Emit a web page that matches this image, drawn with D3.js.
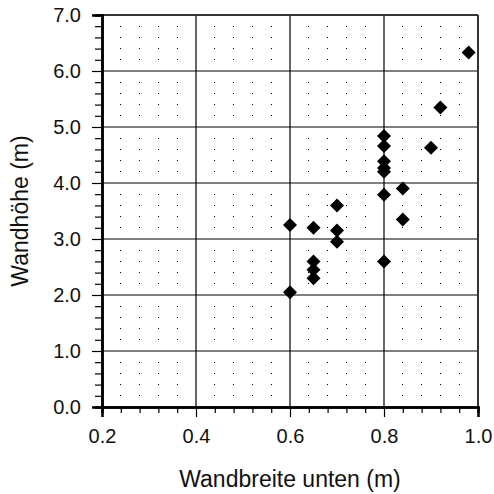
<!DOCTYPE html>
<html><head><meta charset="utf-8">
<script src="https://cdn.jsdelivr.net/npm/d3@7"></script>
<style>html,body{margin:0;padding:0;background:#fff;}svg{display:block;}</style>
</head><body>
<script>
const wandbreite = [0.6,0.6,0.65,0.65,0.65,0.65,0.7,0.7,0.7,0.8,0.8,0.8,0.8,0.8,0.8,0.8,0.84,0.84,0.9,0.92,0.98];
const wandhoehe  = [3.25,2.05,3.2,2.6,2.45,2.3,3.6,3.15,2.95,4.84,4.66,4.39,4.27,4.2,3.79,2.6,3.9,3.35,4.63,5.35,6.33];
const xTicks = [0.2,0.4,0.6,0.8,1.0];
const yTicks = [0,1,2,3,4,5,6,7];
const xLabel = "Wandbreite unten (m)";
const yLabel = "Wandhöhe (m)";

const W = 494, H = 494;
const m = {left:102, right:16, top:15, bottom:87};
const svg = d3.select("body").append("svg").attr("width",W).attr("height",H);
const x = d3.scaleLinear().domain([0.2,1.0]).range([m.left, W-m.right]);
const y = d3.scaleLinear().domain([0,7]).range([H-m.bottom, m.top]);
const font = "'Liberation Sans', Arial, sans-serif";

const xMinor = d3.range(0,21).map(i => 0.2 + i*0.04).filter((v,i)=> i%5!==0);
const yMinor = d3.range(0,36).map(i => i*0.2).filter((v,i)=> i%5!==0);

// dot grid
const dots = svg.append("g");
xMinor.forEach(xv => yMinor.forEach(yv => {
  dots.append("rect").attr("x", Math.floor(x(xv))).attr("y", Math.floor(y(yv)))
    .attr("width",1).attr("height",1).attr("fill","#000");
}));

// major grid lines
const grid = svg.append("g").attr("stroke","#000").attr("stroke-width",1.2);
xTicks.slice(1,-1).forEach(v => grid.append("line").attr("x1",x(v)).attr("x2",x(v)).attr("y1",y(0)).attr("y2",y(7)));
yTicks.slice(1,-1).forEach(v => grid.append("line").attr("x1",x(0.2)).attr("x2",x(1.0)).attr("y1",y(v)).attr("y2",y(v)));

// frame top/right
svg.append("line").attr("x1",x(0.2)).attr("x2",x(1.0)).attr("y1",y(7)).attr("y2",y(7)).attr("stroke","#333").attr("stroke-width",2);
svg.append("line").attr("x1",x(1.0)).attr("x2",x(1.0)).attr("y1",y(7)).attr("y2",y(0)).attr("stroke","#333").attr("stroke-width",2);

// axes
const xAxisMinor = d3.axisBottom(x).tickValues(xMinor).tickSize(6).tickFormat("");
const xAxis = d3.axisBottom(x).tickValues(xTicks).tickSize(10).tickPadding(12).tickFormat(d3.format(".1f"));
const yAxisMinor = d3.axisLeft(y).tickValues(yMinor).tickSize(7).tickFormat("");
const yAxis = d3.axisLeft(y).tickValues(yTicks).tickSize(10).tickPadding(11).tickFormat(d3.format(".1f"));

function style(g){
  g.select(".domain").attr("stroke","#000").attr("stroke-width",2.5);
  g.selectAll(".tick line").attr("stroke","#000").attr("stroke-width",1.2);
  g.selectAll("text").attr("font-family",font).attr("font-size",20).attr("fill","#111");
}
svg.append("g").attr("transform",`translate(0,${y(0)})`).call(xAxisMinor).call(style);
svg.append("g").attr("transform",`translate(0,${y(0)})`).call(xAxis).call(style);
svg.append("g").attr("transform",`translate(${x(0.2)},0)`).call(yAxisMinor).call(style);
svg.append("g").attr("transform",`translate(${x(0.2)},0)`).call(yAxis).call(style);

// points
const pts = wandbreite.map((v,i)=>({x:v,y:wandhoehe[i]}));
svg.append("g").selectAll("path").data(pts).join("path")
  .attr("d","M0,-7L7,0L0,7L-7,0Z")
  .attr("transform",d=>`translate(${x(d.x)},${y(d.y)})`)
  .attr("fill","#000");

// titles
svg.append("text").attr("x",(x(0.2)+x(1.0))/2).attr("y",487).attr("text-anchor","middle")
  .attr("font-family",font).attr("font-size",23).attr("fill","#111").text(xLabel);
svg.append("text").attr("transform",`translate(28,${(y(0)+y(7))/2}) rotate(-90)`).attr("text-anchor","middle")
  .attr("font-family",font).attr("font-size",23).attr("fill","#111").text(yLabel);
</script>
</body></html>
